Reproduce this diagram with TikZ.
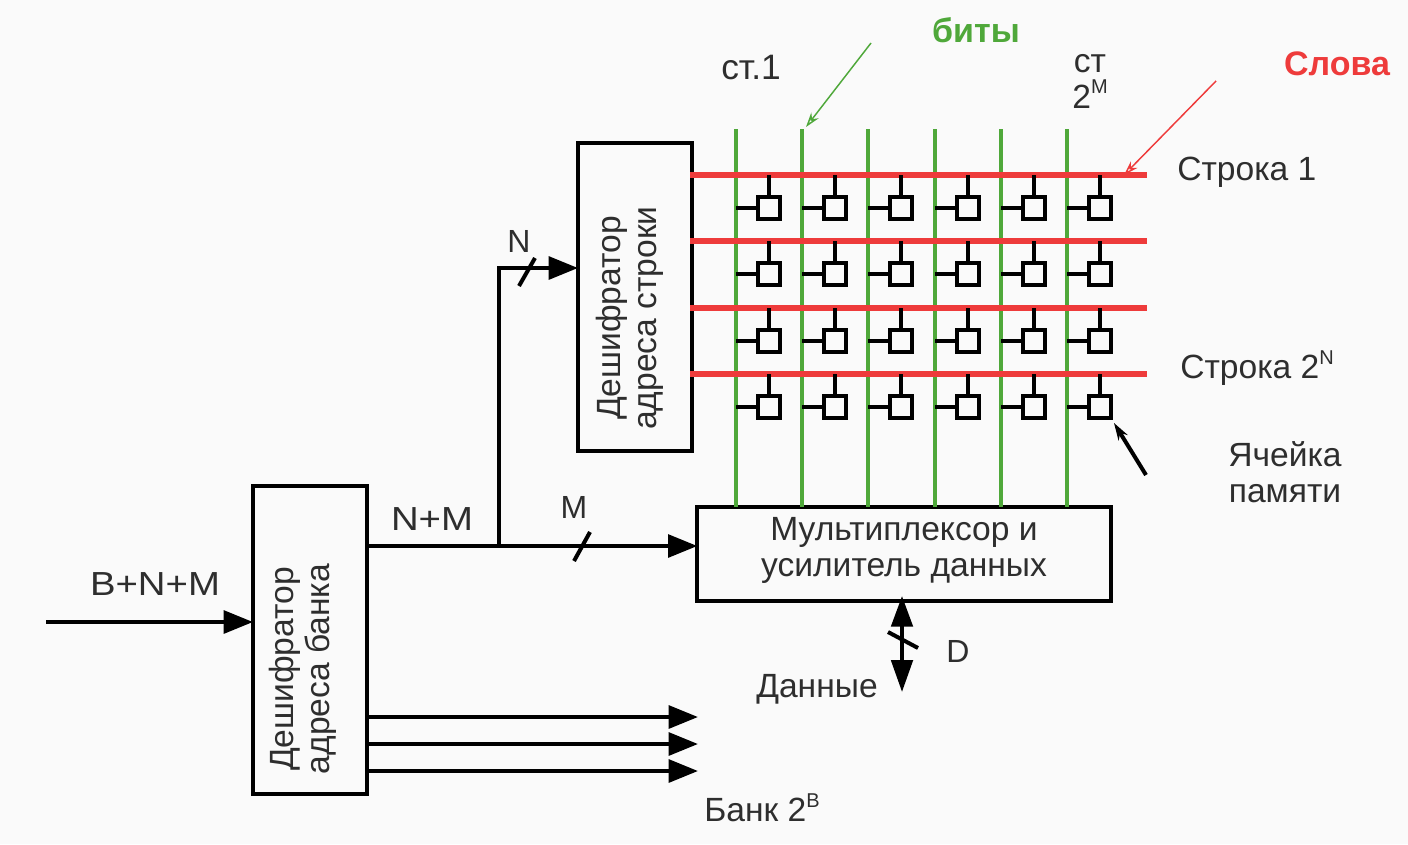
\documentclass[tikz,border=0pt]{standalone}
\usepackage{fontspec}
\setmainfont{Liberation Sans}
\usetikzlibrary{arrows.meta,calc}
\definecolor{txt}{HTML}{2E2E2E}
\definecolor{wordred}{HTML}{EE3B3B}
\definecolor{bitgreen}{HTML}{4FA83A}
\newcommand{\supr}[1]{\raisebox{0.42em}{\fontsize{15}{15}\selectfont #1}}
\tikzset{
  x=0.75pt,y=-0.75pt,
  block/.style={draw=black,line width=3pt,fill=none,inner sep=0pt,outer sep=0pt},
  lbl/.style={text=txt,font=\fontsize{25.2}{27}\selectfont,inner sep=0pt,align=center},
  widelbl/.style={lbl,font=\fontsize{25}{27}\selectfont,xscale=1.15},
  cell/.style={draw=black,line width=3pt,minimum size=16pt,inner sep=0pt,outer sep=0pt},
  bus/.style={draw=black,line width=3pt},
  tick/.style={draw=black,line width=3pt},
  big/.style={-{Triangle[length=22pt,width=17pt]}},
  wordline/.style={draw=wordred,line width=4pt},
  bitline/.style={draw=bitgreen,line width=3pt},
  stub/.style={draw=black,line width=3pt},
}
\begin{document}
\begin{tikzpicture}
\useasboundingbox (0,0) rectangle (1408,844);
\fill[white!98!black] (0,0) rectangle (1408,844);

% blocks
\node[block,minimum width=85.5pt,minimum height=231pt] (rowdec) at (635,297) {};
\node[lbl,rotate=90] (rowdectxt) at (630,318) {Дешифратор\\адреса строки};
\node[block,minimum width=85.5pt,minimum height=231pt] (bankdec) at (310,640) {};
\node[lbl,rotate=90] (banktxt) at (303,669) {Дешифратор\\адреса банка};
\node[block,minimum width=310pt,minimum height=70pt] (mux) at (904,554) {};
\node[lbl] (muxtxt) at (904,550) {Мультиплексор и\\усилитель данных};

% word lines
\foreach \r/\y in {1/175,2/241,3/308,4/374}{
  \coordinate (wl\r w) at (690,\y);
  \coordinate (wl\r e) at (1147,\y);
}
% bit lines
\foreach \c/\x in {1/736,2/802,3/868,4/935,5/1001,6/1067}{
  \coordinate (bl\c t) at (\x,129);
  \coordinate (bl\c b) at (\x,507);
  \draw[bitline] (bl\c t) -- (bl\c b);
}
\foreach \r in {1,2,3,4}{\draw[wordline] (wl\r w) -- (wl\r e);}

% memory cells
\foreach \r/\y in {1/175,2/241,3/308,4/374}{
  \foreach \c/\x in {1/736,2/802,3/868,4/935,5/1001,6/1067}{
    \node[cell] (cell\r\c) at ({\x+33},{\y+33}) {};
    \coordinate (wt\r\c) at ({\x+33},\y);
    \coordinate (bt\r\c) at (\x,{\y+33});
    \draw[stub] (wt\r\c) -- (cell\r\c.north);
    \draw[stub] (bt\r\c) -- (cell\r\c.west);
  }
}

% address buses
\coordinate (inp) at (46,622);
\draw[bus,big] (inp) -- (bankdec.west |- inp);
\coordinate (outnm) at (bankdec.east |- 0,546);
\coordinate (branch) at (499,546);
\coordinate (corner) at (499,268);
\draw[bus,big] (outnm) -- (mux.west |- outnm);
\draw[bus,big,line join=miter] (branch) -- (corner) -- (rowdec.west |- corner);
\coordinate (tnA) at (519,286); \coordinate (tnB) at (535,258);
\draw[tick] (tnA) -- (tnB);
\coordinate (tmA) at (574,561); \coordinate (tmB) at (590,532);
\draw[tick] (tmA) -- (tmB);

% data
\coordinate (dataend) at (902,692);
\draw[bus,{Triangle[length=23pt,width=16pt]}-{Triangle[length=24pt,width=16pt]}] (902,596) -- (dataend);
\coordinate (tdA) at (888,632); \coordinate (tdB) at (918,648);
\draw[tick] (tdA) -- (tdB);

% bank outputs
\foreach \i/\y in {1/717,2/744,3/771}{
  \coordinate (bo\i) at (698,\y);
  \draw[bus,big] (bankdec.east |- bo\i) -- (bo\i);
}

% pointers
\coordinate (gs) at (871,43); \coordinate (ge) at (806,127);
\draw[draw=bitgreen,line width=1.1pt,-{Stealth[length=11pt,width=7pt,open,fill=white]}] (gs) -- (ge);
\coordinate (rs) at (1216,81); \coordinate (re) at (1124,175);
\draw[draw=wordred,line width=1.1pt,-{Stealth[length=11pt,width=7pt,open,fill=white]}] (rs) -- (re);
\coordinate (ks) at (1146,475); \coordinate (ke) at (1114,423);
\draw[draw=black,line width=3pt,-{Stealth[length=13pt,width=8pt,fill=gray]}] (ks) -- (ke);

% labels
\node[lbl,font=\bfseries\fontsize{25.5}{27}\selectfont,text=bitgreen] (bits) at (976,30) {биты};
\node[lbl,font=\bfseries\fontsize{25.5}{27}\selectfont,text=wordred] (slova) at (1337,64) {Слова};
\node[lbl,font=\fontsize{26.5}{27}\selectfont] (st1) at (751,68) {ст.1};
\node[lbl] (stM) at (1090,81) {ст\\2\supr{М}};
\node[lbl,anchor=west] (row1) at (1177,172) {Строка 1};
\node[lbl,anchor=west] (rowN) at (1180,368) {Строка 2\supr{N}};
\node[lbl] (cellt) at (1285,472) {Ячейка\\памяти};
\node[lbl,font=\fontsize{24}{27}\selectfont] (lN) at (519,241) {N};
\node[lbl,font=\fontsize{24}{27}\selectfont] (lM) at (574,507) {M};
\node[widelbl] (lNM) at (432,519) {N+M};
\node[widelbl] (lBNM) at (155,584) {B+N+M};
\node[lbl,font=\fontsize{24}{27}\selectfont] (lD) at (958,651) {D};
\node[lbl] (ldata) at (817,689) {Данные};
\node[lbl] (lbank) at (762,808) {Банк 2\supr{В}};
\end{tikzpicture}
\end{document}
